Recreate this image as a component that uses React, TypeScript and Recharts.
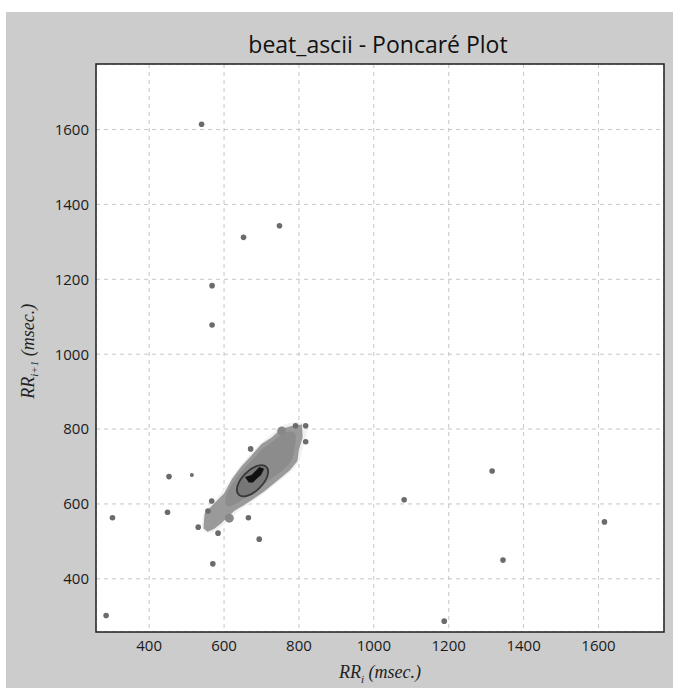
import React from "react";
import { ScatterChart, Scatter, XAxis, YAxis, CartesianGrid, ReferenceArea } from "recharts";

// RR_i / RR_i+1 pairs (msec.)
const outlierRRi = [540, 748, 652, 568, 568, 1081, 1316, 1345, 1616, 1188, 285, 302, 453, 449, 567, 531, 584, 665, 694, 570, 671, 818, 791, 818, 557];
const outlierRRnext = [1614, 1343, 1312, 1183, 1078, 611, 688, 450, 552, 287, 302, 563, 673, 578, 608, 538, 522, 563, 506, 440, 747, 766, 809, 809, 581];

const smallRRi = [514];
const smallRRnext = [677];

const spotRRi = [614, 754];
const spotRRnext = [562, 795];

// density contours, outline vertices in msec.
const haloRRi = [538, 543, 570, 596, 620, 644, 670, 698, 726, 748, 778, 812, 824, 817, 807, 802, 782, 757, 734, 712, 686, 660, 634, 616, 598, 580, 558];
const haloRRnext = [530, 578, 605, 632, 672, 705, 733, 764, 784, 808, 818, 821, 800, 770, 740, 712, 688, 668, 650, 632, 613, 596, 578, 560, 543, 528, 520];

const lightBlobRRi = [545, 548, 572, 600, 622, 646, 672, 700, 728, 752, 780, 808, 810, 800, 796, 776, 752, 730, 708, 682, 655, 628, 610, 592, 574, 556];
const lightBlobRRnext = [535, 575, 600, 628, 668, 700, 728, 760, 778, 800, 808, 812, 778, 745, 715, 690, 670, 652, 634, 616, 598, 582, 566, 548, 534, 526];

const darkBlobRRi = [600, 625, 650, 676, 702, 730, 752, 778, 795, 788, 784, 766, 744, 722, 700, 675, 650, 625, 605];
const darkBlobRRnext = [615, 660, 692, 718, 748, 766, 786, 796, 790, 745, 718, 698, 680, 664, 646, 628, 612, 596, 590];

const ellipseRRi = [717, 690, 655, 632, 635, 662, 697, 720];
const ellipseRRnext = [703, 706, 683, 648, 621, 618, 641, 676];

const coreRRi = [656, 673, 684, 694, 707, 699, 688, 677, 666];
const coreRRnext = [672, 677, 688, 699, 694, 677, 668, 657, 657];

const xTicks = [400, 600, 800, 1000, 1200, 1400, 1600];
const yTicks = [400, 600, 800, 1000, 1200, 1400, 1600];

const zip = (xs: number[], ys: number[]) => xs.map((x, i) => ({ x, y: ys[i] }));

const outliers = zip(outlierRRi, outlierRRnext);
const smallDots = zip(smallRRi, smallRRnext);
const spots = zip(spotRRi, spotRRnext);
const halo = zip(haloRRi, haloRRnext);
const lightBlob = zip(lightBlobRRi, lightBlobRRnext);
const darkBlob = zip(darkBlobRRi, darkBlobRRnext);
const ellipse = zip(ellipseRRi, ellipseRRnext);
const core = zip(coreRRi, coreRRnext);

const DOMAIN: [number, number] = [258, 1775];
const tickStyle = { fontSize: 15, fill: "#1a1a1a", fontFamily: "Open Sans" };
const labelFont = "'Liberation Serif', 'DejaVu Serif', serif";

const hidden = () => <g />;

export default function App() {
  return (
    <div style={{ position: "absolute", left: 6, top: 12, width: 667, height: 676, background: "#cccccc" }}>
      <div
        style={{
          position: "absolute", left: 0, width: 744, top: 17, textAlign: "center",
          fontFamily: "Open Sans", fontSize: 23, lineHeight: "30px", color: "#111",
        }}
      >
        beat_ascii - Poncaré Plot
      </div>
      <ScatterChart width={667} height={672} margin={{ top: 52, right: 9, left: 30, bottom: 22 }}>
        <CartesianGrid fill="#ffffff" stroke="#c6c6c6" strokeDasharray="4 4" />
        <XAxis
          type="number" dataKey="x" domain={DOMAIN} ticks={xTicks} allowDataOverflow
          tickLine={false} axisLine={false} tickSize={0} tickMargin={8} height={30} tick={tickStyle}
        />
        <YAxis
          type="number" dataKey="y" domain={DOMAIN} ticks={yTicks} allowDataOverflow
          tickLine={false} axisLine={false} tickSize={0} tickMargin={7} width={60} tick={tickStyle}
        />
        <Scatter data={halo} shape={hidden} line={{ fill: "#f1f1f1", stroke: "none" }} lineJointType="basisClosed" isAnimationActive={false} />
        <Scatter data={lightBlob} shape={hidden} line={{ fill: "#9a9a9a", stroke: "none" }} lineJointType="linearClosed" isAnimationActive={false} />
        <Scatter data={darkBlob} shape={hidden} line={{ fill: "#8c8c8c", stroke: "none" }} lineJointType="basisClosed" isAnimationActive={false} />
        <Scatter data={ellipse} shape={hidden} line={{ fill: "#777777", stroke: "#383838", strokeWidth: 1.8 }} lineJointType="basisClosed" isAnimationActive={false} />
        <Scatter data={core} shape={hidden} line={{ fill: "#111111", stroke: "none" }} lineJointType="linearClosed" isAnimationActive={false} />
        <Scatter data={spots} shape={(p: any) => <circle cx={p.cx} cy={p.cy} r={4.5} fill="#888888" />} isAnimationActive={false} />
        <Scatter data={outliers} shape={(p: any) => <circle cx={p.cx} cy={p.cy} r={2.8} fill="#6b6b6b" />} isAnimationActive={false} />
        <Scatter data={smallDots} shape={(p: any) => <circle cx={p.cx} cy={p.cy} r={2} fill="#6b6b6b" />} isAnimationActive={false} />
        <ReferenceArea x1={DOMAIN[0]} x2={DOMAIN[1]} y1={DOMAIN[0]} y2={DOMAIN[1]} fill="none" stroke="#1e1e1e" strokeWidth={1.5} ifOverflow="visible" />
      </ScatterChart>
      <div
        style={{
          position: "absolute", left: 274, width: 200, top: 650, textAlign: "center",
          fontFamily: labelFont, fontStyle: "italic", fontSize: 18, color: "#222", whiteSpace: "nowrap",
        }}
      >
        RR<sub style={{ fontSize: 11 }}>i</sub> (msec.)
      </div>
      <div
        style={{
          position: "absolute", left: 25, top: 336, width: 0, height: 0,
        }}
      >
        <div
          style={{
            position: "absolute", left: -100, top: -12, width: 200, textAlign: "center", transform: "rotate(-90deg)",
            fontFamily: labelFont, fontStyle: "italic", fontSize: 18, color: "#222", whiteSpace: "nowrap", lineHeight: "24px",
          }}
        >
          RR<sub style={{ fontSize: 11 }}>i+1</sub> (msec.)
        </div>
      </div>
    </div>
  );
}
